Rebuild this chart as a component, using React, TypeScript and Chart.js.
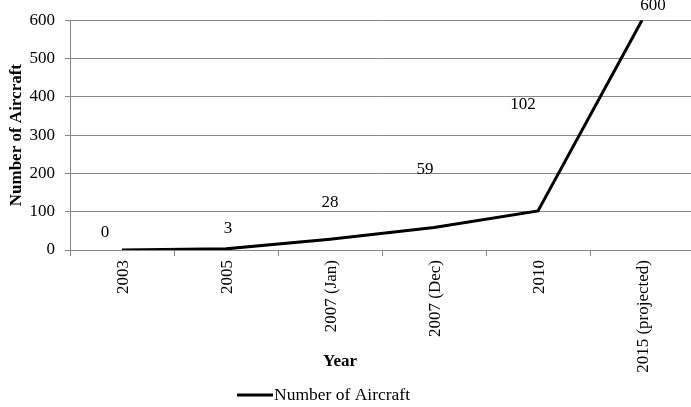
import React, { useEffect, useRef } from "react";
import { Chart, registerables } from "chart.js";

Chart.register(...registerables);

const categories = ["2003", "2005", "2007 (Jan)", "2007 (Dec)", "2010", "2015 (projected)"];
const aircraftCounts = [0, 3, 28, 59, 102, 600];
const seriesName = "Number of Aircraft";
const yTickStep = 100;
const yMax = 600;
// label placement offsets (pixels, relative to the point) as in the reference
const labelOffsets: [number, number][] = [
  [-17, -17],
  [2, -20],
  [0, -37],
  [-9, -58],
  [-15, -106],
  [11, -15],
];

const FONT = "'Liberation Serif', 'Times New Roman', serif";
const GRID = "#878787";

export default function App() {
  const ref = useRef<HTMLCanvasElement | null>(null);

  useEffect(() => {
    document.body.style.margin = "0";
    document.documentElement.style.overflow = "hidden";
    const canvas = ref.current;
    if (!canvas) return;

    const labelsPlugin = {
      id: "extras",
      afterDatasetsDraw(chart: any) {
        const ctx = chart.ctx;
        const meta = chart.getDatasetMeta(0);
        ctx.save();
        ctx.font = `17px ${FONT}`;
        ctx.fillStyle = "#000";
        ctx.textAlign = "center";
        ctx.textBaseline = "middle";
        meta.data.forEach((pt: any, i: number) => {
          const [dx, dy] = labelOffsets[i] || [0, -15];
          ctx.fillText(String(aircraftCounts[i]), pt.x + dx, pt.y + dy);
        });
        ctx.restore();
      },
      afterDraw(chart: any) {
        const ctx = chart.ctx;
        const area = chart.chartArea;
        ctx.save();
        // x axis title
        ctx.font = `bold 17px ${FONT}`;
        ctx.fillStyle = "#000";
        ctx.textAlign = "center";
        ctx.textBaseline = "middle";
        ctx.fillText("Year", area.left + 270, area.bottom + 112);
        // legend
        const ly = area.bottom + 145;
        const lx = area.left + 167;
        ctx.strokeStyle = "#000";
        ctx.lineWidth = 3;
        ctx.beginPath();
        ctx.moveTo(lx, ly);
        ctx.lineTo(lx + 36, ly);
        ctx.stroke();
        ctx.font = `17.5px ${FONT}`;
        ctx.textAlign = "left";
        ctx.fillText(seriesName, lx + 37, ly);
        ctx.restore();
      },
    };

    const chart = new Chart(canvas, {
      type: "line",
      data: {
        labels: categories,
        datasets: [
          {
            label: seriesName,
            data: aircraftCounts,
            borderColor: "#000",
            backgroundColor: "#000",
            borderWidth: 3,
            pointRadius: 0,
            tension: 0,
          },
        ],
      },
      options: {
        animation: false,
        responsive: true,
        maintainAspectRatio: false,
        layout: { padding: { top: 19.5, left: 0, right: 0, bottom: 0 } },
        plugins: {
          legend: { display: false },
          tooltip: { enabled: false },
        },
        scales: {
          x: {
            type: "category",
            offset: true,
            grid: {
              offset: true,
              drawOnChartArea: false,
              drawTicks: true,
              tickLength: 6,
              color: GRID,
            },
            border: { color: GRID, width: 1 },
            ticks: {
              minRotation: 90,
              maxRotation: 90,
              autoSkip: false,
              padding: 4,
              labelOffset: 2,
              color: "#000",
              font: { family: FONT, size: 17 },
            },
            afterFit(scale: any) {
              scale.height = 157;
            },
          },
          y: {
            min: 0,
            max: yMax,
            grid: { color: GRID, tickLength: 5 },
            border: { color: GRID, width: 1 },
            ticks: {
              stepSize: yTickStep,
              padding: 10,
              color: "#000",
              font: { family: FONT, size: 17 },
            },
            title: {
              display: true,
              text: seriesName,
              color: "#000",
              font: { family: FONT, size: 17, weight: "bold" },
              padding: { top: 6, bottom: 0 },
            },
            afterFit(scale: any) {
              scale.width = 70;
            },
          },
        },
      },
      plugins: [labelsPlugin],
    });

    return () => chart.destroy();
  }, []);

  return (
    <div style={{ width: 694, height: 407, position: "relative" }}>
      <canvas ref={ref} />
    </div>
  );
}
